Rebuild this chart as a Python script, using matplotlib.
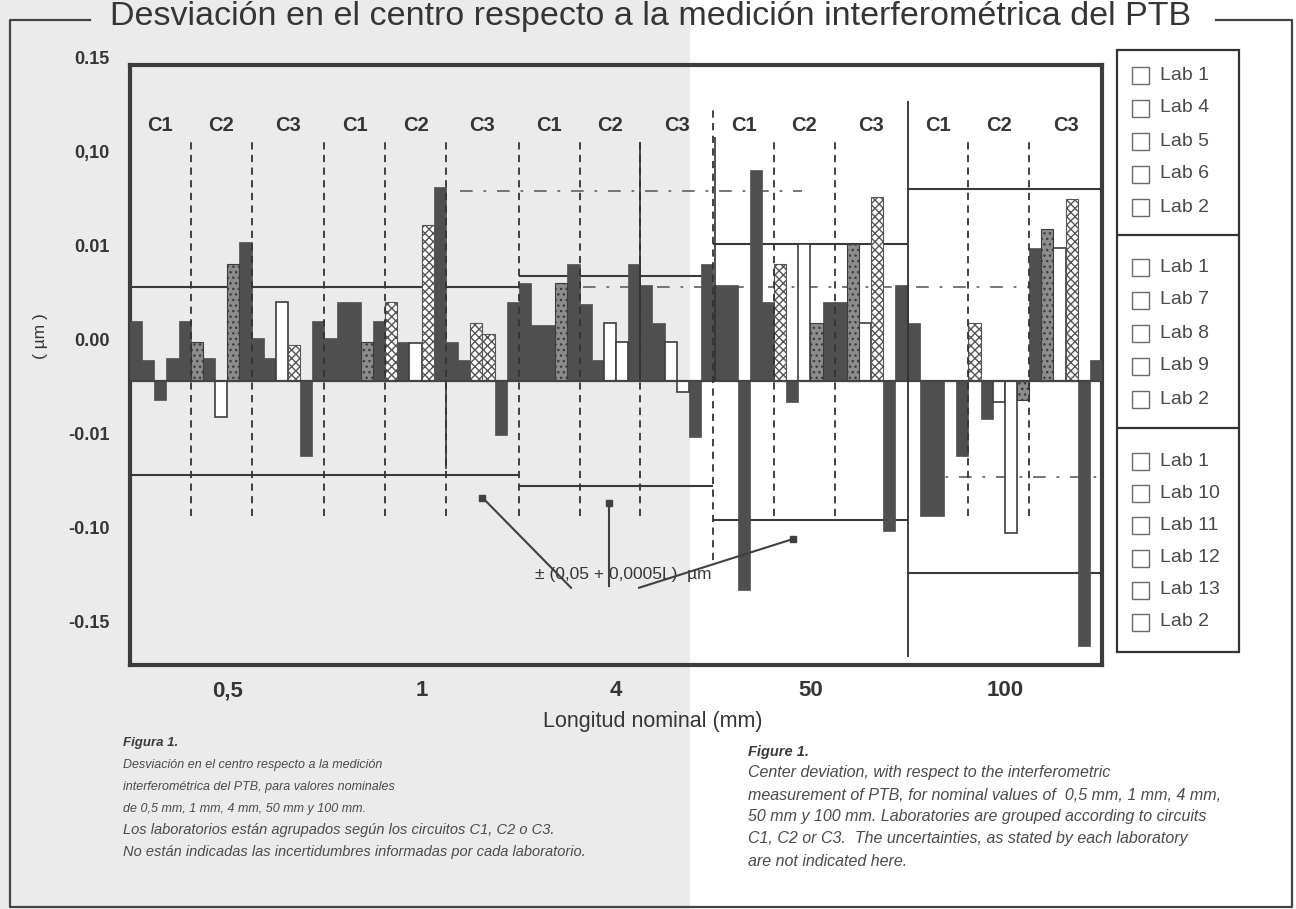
import numpy as np
import matplotlib.pyplot as plt
from matplotlib.patches import Rectangle
from matplotlib import transforms

plt.rcParams['font.family'] = ['Liberation Sans', 'DejaVu Sans']

# longitudes nominales (mm) y circuitos
nominal = ['0,5', '1', '4', '50', '100']
circuits = ['C1', 'C2', 'C3']
circuit_labs = {
    'C1': ['Lab 1', 'Lab 4', 'Lab 5', 'Lab 6', 'Lab 2'],
    'C2': ['Lab 1', 'Lab 7', 'Lab 8', 'Lab 9', 'Lab 2'],
    'C3': ['Lab 1', 'Lab 10', 'Lab 11', 'Lab 12', 'Lab 13', 'Lab 2'],
}

# desviacion en el centro (um), orden C1 | C2 | C3 dentro de cada longitud
dev_05 = [0.032, 0.011, -0.010, 0.012, 0.032,
          0.021, 0.012, -0.019, 0.062, 0.074,
          0.023, 0.012, 0.042, 0.019, -0.040, 0.032]
dev_1 = [0.023, 0.042, 0.042, 0.021, 0.032,
         0.042, 0.021, 0.020, 0.083, 0.103,
         0.021, 0.011, 0.031, 0.025, -0.029, 0.042]
dev_4 = [0.052, 0.030, 0.030, 0.052, 0.062,
         0.041, 0.011, 0.031, 0.021, 0.062,
         0.051, 0.031, 0.021, -0.006, -0.030, 0.062]
dev_50 = [0.051, 0.051, -0.111, 0.112, 0.042,
          0.062, -0.011, 0.073, 0.031, 0.042,
          0.042, 0.073, 0.031, 0.098, -0.080, 0.051]
dev_100 = [0.031, -0.072, -0.072, 0.0, -0.040,
           0.031, -0.020, -0.011, -0.081, -0.010,
           0.071, 0.081, 0.071, 0.097, -0.141, 0.011]

# relleno de cada barra: d oscuro, w blanco, h cuadriculado, s punteado
fill_05 = 'ddddd' + 'sdwsd' + 'ddwhdd'
fill_1 = 'dddsd' + 'hdwhd' + 'ddhhdd'
fill_4 = 'dddsd' + 'ddwwd' + 'ddwwdd'
fill_50 = 'ddddd' + 'hdwsd' + 'dswhdd'
fill_100 = 'ddddd' + 'hdwws' + 'dswhdd'

# tolerancia +-(0,05 + 0,0005L) um
tol_up = [0.050, 0.050, 0.056, 0.073, 0.102]
tol_lo = [-0.050, -0.050, -0.056, -0.074, -0.102]

devs = dev_05 + dev_1 + dev_4 + dev_50 + dev_100
fills = fill_05 + fill_1 + fill_4 + fill_50 + fill_100
sizes = [len(circuit_labs[c]) for c in circuits]
n_grp = sum(sizes)

dark = '#4f4f4f'
ink = '#353535'

fig = plt.figure(figsize=(12.96, 9.09), dpi=100)

# capa de fondo en pixeles: trama gris, marco, titulo, leyenda, pies
bg = fig.add_axes([0, 0, 1, 1], zorder=0)
bg.set_xlim(0, 1296)
bg.set_ylim(909, 0)
bg.axis('off')
bg.add_patch(Rectangle((0, 0), 690, 909, color='#ebebeb', lw=0))
bg.plot([90, 10, 10, 1292, 1292, 1216], [20, 20, 907, 907, 20, 20],
        color='#444444', lw=1.6)
bg.text(651, 25, 'Desviación en el centro respecto a la medición interferométrica del PTB',
        ha='center', va='baseline', fontsize=24.5, color=ink)

ax = fig.add_axes([130 / 1296, 1 - 665 / 909, 972 / 1296, 600 / 909], zorder=1)
ax.set_facecolor('none')
x = np.arange(len(devs)) + 0.5
devs = np.array(devs)
styles = {
    'd': dict(color=dark, edgecolor=dark, lw=0.5),
    'w': dict(color='white', edgecolor='#3d3d3d', lw=1.2),
    'h': dict(color='white', edgecolor='#555555', hatch='xxxx', lw=0.8),
    's': dict(color='#8c8c8c', edgecolor='#3d3d3d', hatch='...', lw=0.8),
}
for code, st in styles.items():
    m = np.array([f == code for f in fills])
    ax.bar(x[m], devs[m], width=1.0, zorder=3, **st)

ax.axhline(0, color='#444444', lw=1.6, zorder=4)

# tolerancias por longitud nominal
for g in range(len(nominal)):
    ax.hlines([tol_up[g], tol_lo[g]], g * n_grp, (g + 1) * n_grp,
              color='#3a3a3a', lw=1.5, zorder=2)

# separaciones entre circuitos
edges = []
for g in range(len(nominal)):
    start = g * n_grp
    for s in np.cumsum(sizes):
        edges.append(start + s)
for e in edges[:-1]:
    if e == 4 * n_grp:
        ax.vlines(e, -0.147, 0.149, color='#333333', lw=1.3, zorder=5)
    elif e == 3 * n_grp:
        ax.vlines(e, -0.095, 0.147, color='#333333', lw=1.3,
                  linestyles=(0, (4, 3)), zorder=5)
        ax.vlines(e + 0.15, 0, 0.130, color='#333333', lw=1.2, zorder=5)
    else:
        ax.vlines(e, -0.072, 0.128, color='#333333', lw=1.3,
                  linestyles=(0, (4, 3)), zorder=5)
ax.vlines(2 * n_grp + 10, 0, 0.127, color='#333333', lw=1.2, zorder=5)
ax.vlines(n_grp + 10, -0.047, 0, color='#333333', lw=1.2, zorder=5)

# lineas de trazo y punto
for yv, x0, x1 in [(0.101, 27.2, 55.3), (0.050, 37.3, 74.2), (-0.051, 65.2, 80)]:
    ax.hlines(yv, x0, x1, color='#6a6a6a', lw=1.3,
              linestyles=(0, (7, 6, 1.5, 6)), zorder=2)

# etiquetas de circuito
for g in range(len(nominal)):
    start = g * n_grp
    for c, s0, s in zip(circuits, np.cumsum([0] + sizes[:-1]), sizes):
        ax.text(start + s0 + s / 2, 0.136, c, ha='center', va='center',
                fontsize=14.5, fontweight='bold', color=ink)

# nota de tolerancia
ax.text(40.6, -0.103, '± (0,05 + 0,0005L)  µm', ha='center', va='center',
        fontsize=12.5, color=ink, zorder=6)
for (xa, ya), (xb, yb) in [((36.3, -0.110), (29.0, -0.062)),
                           ((39.4, -0.109), (39.4, -0.065)),
                           ((41.9, -0.110), (54.6, -0.084))]:
    ax.plot([xa, xb], [ya, yb], color='#404040', lw=1.5, zorder=6)
    ax.plot(xb, yb, 's', color='#404040', ms=4, zorder=6)

ax.set_xlim(0, len(devs))
ax.set_ylim(-0.1511, 0.1681)
ax.set_xticks(np.arange(len(nominal)) * n_grp + n_grp / 2, nominal)
ax.tick_params(axis='x', length=0, pad=11, labelsize=16, labelcolor=ink)
for t in ax.get_xticklabels():
    t.set_fontweight('bold')
ax.set_yticks([])
for sp in ax.spines.values():
    sp.set_linewidth(3)
    sp.set_color('#3c3c3c')
bg.text(653, 722, 'Longitud nominal (mm)', ha='center', va='center',
        fontsize=15.5, color=ink)

# rotulos del eje y tal como estan impresos
ytick_lab = ['0.15', '0,10', '0.01', '0.00', '-0.01', '-0.10', '-0.15']
ytick_pos = 0.021 + np.array([0.15, 0.10, 0.05, 0.0, -0.05, -0.10, -0.15])
tr = transforms.blended_transform_factory(ax.transAxes, ax.transData)
for p, lab in zip(ytick_pos, ytick_lab):
    ax.text(-0.021, p, lab, transform=tr, ha='right', va='center',
            fontsize=13, fontweight='bold', color=ink, clip_on=False)
bg.text(40, 336, '( µm )', rotation=90, ha='center', va='center',
        fontsize=12.5, color=ink)

# leyenda en tres cajas, una por circuito
bg.add_patch(Rectangle((1117, 50), 122, 602, fill=False, ec='#333333', lw=1.6))
bg.hlines([235, 428], 1117, 1239, color='#333333', lw=1.6)
row0 = {'C1': (75, 33), 'C2': (267, 33), 'C3': (461, 32.2)}
for c in circuits:
    y0, step = row0[c]
    for i, lab in enumerate(circuit_labs[c]):
        yy = y0 + step * i
        bg.add_patch(Rectangle((1132, yy - 8), 17, 17, fill=False,
                               ec='#6a6a6a', lw=1.0))
        bg.text(1160, yy, lab, ha='left', va='center', fontsize=14,
                color='#4a4a4a')

# pies de figura
cap_es = ['Desviación en el centro respecto a la medición',
          'interferométrica del PTB, para valores nominales',
          'de 0,5 mm, 1 mm, 4 mm, 50 mm y 100 mm.',
          'Los laboratorios están agrupados según los circuitos C1, C2 o C3.',
          'No están indicadas las incertidumbres informadas por cada laboratorio.']
cap_en = ['Center deviation, with respect to the interferometric',
          'measurement of PTB, for nominal values of  0,5 mm, 1 mm, 4 mm,',
          '50 mm y 100 mm. Laboratories are grouped according to circuits',
          'C1, C2 or C3.  The uncertainties, as stated by each laboratory',
          'are not indicated here.']
bg.text(123, 743, 'Figura 1.', fontsize=9.5, style='italic', fontweight='bold',
        color='#3a3a3a', va='center')
for i, line in enumerate(cap_es):
    size = 9.0 if i < 3 else 10.5
    bg.text(123, 765 + 21.8 * i, line, fontsize=size, style='italic',
            color='#4a4a4a', va='center')
bg.text(748, 752, 'Figure 1.', fontsize=10.5, style='italic', fontweight='bold',
        color='#3a3a3a', va='center')
for i, line in enumerate(cap_en):
    bg.text(748, 773 + 22 * i, line, fontsize=11.5, style='italic',
            color='#4a4a4a', va='center')

fig.savefig('out.png', dpi=100)
